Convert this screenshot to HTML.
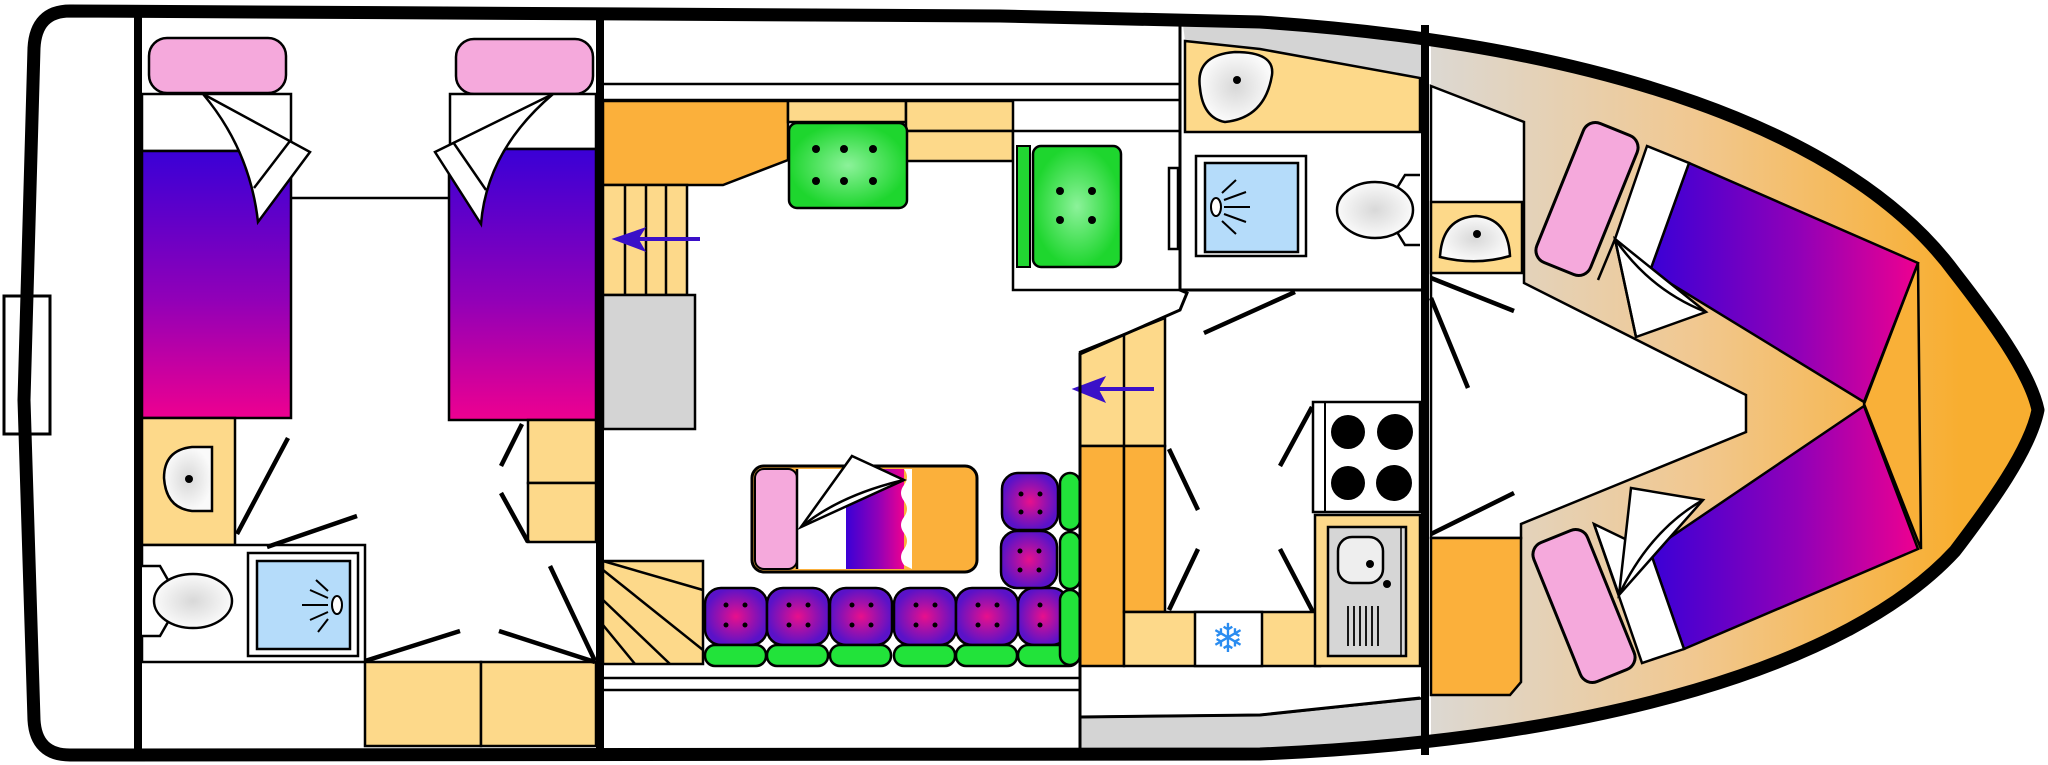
<!DOCTYPE html>
<html><head><meta charset="utf-8"><style>html,body{margin:0;padding:0;background:#fff}svg{display:block}</style></head>
<body>
<svg width="2048" height="765" viewBox="0 0 2048 765" xmlns="http://www.w3.org/2000/svg">
<defs>
<linearGradient id="bedv" x1="0" y1="0" x2="0" y2="1"><stop offset="0" stop-color="#3a00d6"/><stop offset="0.55" stop-color="#9000b8"/><stop offset="1" stop-color="#ee0090"/></linearGradient>
<linearGradient id="bedh" x1="0" y1="0" x2="1" y2="0"><stop offset="0" stop-color="#3a00d6"/><stop offset="0.55" stop-color="#9000b8"/><stop offset="1" stop-color="#ee0090"/></linearGradient>
<linearGradient id="wood" x1="1431" y1="0" x2="1960" y2="0" gradientUnits="userSpaceOnUse"><stop offset="0" stop-color="#dcd8d2"/><stop offset="0.5" stop-color="#f1c890"/><stop offset="1" stop-color="#f8ae30"/></linearGradient>
<radialGradient id="grn"><stop offset="0" stop-color="#8cf29a"/><stop offset="1" stop-color="#1ed62e"/></radialGradient>
<radialGradient id="pur"><stop offset="0" stop-color="#e8108c"/><stop offset="1" stop-color="#5a12c8"/></radialGradient>
<radialGradient id="wc"><stop offset="0" stop-color="#d8d8d8"/><stop offset="1" stop-color="#fafafa"/></radialGradient>
<clipPath id="hullclip"><path d="M60,11 L1000,16 L1260,22 C1600,45 1850,130 1955,273 C1990,318 2030,372 2038,410 C2030,450 1990,505 1955,551 C1850,665 1600,740 1260,754 L60,755 Z"/></clipPath>
</defs>

<rect x="1431" y="0" width="620" height="765" fill="url(#wood)" clip-path="url(#hullclip)"/>
<g clip-path="url(#hullclip)">
<path d="M1180,0 L1425,0 L1425,80 L1185,41 Z" fill="#d4d4d4"/>
<path d="M1080,717 L1260,715 L1425,698 L1425,765 L1080,765 Z" fill="#d4d4d4" stroke="#000" stroke-width="2.5"/>
</g>
<path d="M1185,41 L1260,49 L1420,78 L1420,132 L1185,132 Z" fill="#fdd98a" stroke="#000" stroke-width="2.5"/>
<path d="M1200,88 Q1195,55 1235,52 Q1275,52 1272,75 Q1265,118 1225,122 Q1203,118 1200,88 Z" fill="url(#wc)" stroke="#000" stroke-width="2.5"/>
<circle cx="1237" cy="80" r="4" fill="#000"/>

<!-- AFT CABIN -->
<rect x="4" y="296" width="46" height="138" fill="#fff" stroke="#000" stroke-width="3"/>
<rect x="149" y="38" width="137" height="55" rx="18" fill="#f5a9dc" stroke="#000" stroke-width="2.5"/>
<rect x="456" y="39" width="137" height="55" rx="18" fill="#f5a9dc" stroke="#000" stroke-width="2.5"/>
<rect x="142" y="94" width="149" height="57" fill="#fff" stroke="#000" stroke-width="2.5"/>
<rect x="142" y="151" width="149" height="267" fill="url(#bedv)" stroke="#000" stroke-width="2.5"/>
<rect x="450" y="94" width="146" height="55" fill="#fff" stroke="#000" stroke-width="2.5"/>
<rect x="449" y="149" width="147" height="271" fill="url(#bedv)" stroke="#000" stroke-width="2.5"/>
<line x1="291" y1="198" x2="449" y2="198" stroke="#000" stroke-width="2.5"/>
<path d="M203,94 L310,152 L258,222 Q250,150 203,94 Z" fill="#fff" stroke="#000" stroke-width="2.5"/>
<line x1="254" y1="188" x2="290" y2="141" stroke="#000" stroke-width="2.5"/>
<path d="M553,94 L435,152 L481,224 Q487,150 553,94 Z" fill="#fff" stroke="#000" stroke-width="2.5"/>
<line x1="486" y1="190" x2="453" y2="142" stroke="#000" stroke-width="2.5"/>
<rect x="142" y="418" width="93" height="127" fill="#fdd98a" stroke="#000" stroke-width="2.5"/>
<path d="M212,447 L192,447 Q164,450 164,478 Q166,508 192,511 L212,511 Z" fill="url(#wc)" stroke="#000" stroke-width="2.5"/>
<circle cx="189" cy="479" r="4" fill="#000"/>
<rect x="142" y="545" width="223" height="117" fill="#fff" stroke="#000" stroke-width="2.5"/>
<path d="M142,566 L160,566 L168,580 L168,622 L160,636 L142,636" fill="#fff" stroke="#000" stroke-width="2.5"/>
<ellipse cx="193" cy="601" rx="39" ry="27" fill="url(#wc)" stroke="#000" stroke-width="2.5"/>
<rect x="248" y="553" width="110" height="103" fill="#fff" stroke="#000" stroke-width="2.5"/>
<rect x="257" y="561" width="93" height="88" fill="#b5dcfa" stroke="#000" stroke-width="2.5"/>
<ellipse cx="337" cy="605" rx="5" ry="9" fill="#fff" stroke="#000" stroke-width="2"/>
<g stroke="#000" stroke-width="2"><line x1="302" y1="605" x2="328" y2="605"/><line x1="310" y1="590" x2="328" y2="598"/><line x1="316" y1="580" x2="328" y2="591"/><line x1="310" y1="620" x2="328" y2="612"/><line x1="318" y1="632" x2="328" y2="619"/></g>
<rect x="365" y="662" width="116" height="84" fill="#fdd98a" stroke="#000" stroke-width="2.5"/>
<rect x="481" y="662" width="115" height="84" fill="#fdd98a" stroke="#000" stroke-width="2.5"/>
<rect x="528" y="420" width="68" height="63" fill="#fdd98a" stroke="#000" stroke-width="2.5"/>
<rect x="528" y="483" width="68" height="59" fill="#fdd98a" stroke="#000" stroke-width="2.5"/>
<g stroke="#000" stroke-width="4.5">
<line x1="288" y1="438" x2="237" y2="534"/><line x1="357" y1="516" x2="267" y2="547"/>
<line x1="522" y1="424" x2="501" y2="466"/><line x1="501" y1="493" x2="528" y2="542"/>
<line x1="550" y1="566" x2="595" y2="661"/><line x1="460" y1="631" x2="365" y2="661"/><line x1="499" y1="631" x2="595" y2="662"/>
</g>

<!-- SALOON -->
<line x1="604" y1="84" x2="1180" y2="84" stroke="#000" stroke-width="2.5"/>
<line x1="604" y1="100" x2="1180" y2="100" stroke="#000" stroke-width="2.5"/>
<path d="M603,101 L788,101 L788,160 L723,185 L603,185 Z" fill="#fbb03b" stroke="#000" stroke-width="2.5"/>
<rect x="603" y="185" width="84" height="110" fill="#fdd98a" stroke="#000" stroke-width="2.5"/>
<g stroke="#000" stroke-width="2.5"><line x1="625" y1="185" x2="625" y2="295"/><line x1="646" y1="185" x2="646" y2="295"/><line x1="666" y1="185" x2="666" y2="295"/></g>
<rect x="603" y="295" width="92" height="134" fill="#d4d4d4" stroke="#000" stroke-width="2.5"/>
<rect x="788" y="101" width="118" height="21" fill="#fdd98a" stroke="#000" stroke-width="2.5"/>
<rect x="906" y="101" width="107" height="30" fill="#fdd98a" stroke="#000" stroke-width="2.5"/>
<rect x="906" y="131" width="107" height="30" fill="#fdd98a" stroke="#000" stroke-width="2.5"/>
<rect x="789" y="123" width="118" height="85" rx="8" fill="url(#grn)" stroke="#000" stroke-width="2.5"/>
<g fill="#000"><circle cx="816" cy="149" r="4"/><circle cx="844" cy="149" r="4"/><circle cx="873" cy="149" r="4"/><circle cx="816" cy="181" r="4"/><circle cx="844" cy="181" r="4"/><circle cx="873" cy="181" r="4"/></g>
<rect x="1013" y="131" width="167" height="159" fill="#fff" stroke="#000" stroke-width="2.5"/>
<rect x="1017" y="146" width="13" height="121" fill="#22d632" stroke="#000" stroke-width="2"/>
<rect x="1033" y="146" width="88" height="121" rx="8" fill="url(#grn)" stroke="#000" stroke-width="2.5"/>
<g fill="#000"><circle cx="1060" cy="191" r="4"/><circle cx="1092" cy="191" r="4"/><circle cx="1060" cy="220" r="4"/><circle cx="1092" cy="220" r="4"/></g>
<line x1="604" y1="678" x2="1080" y2="678" stroke="#000" stroke-width="2.5"/>
<line x1="604" y1="690" x2="1080" y2="690" stroke="#000" stroke-width="2.5"/>
<rect x="603" y="561" width="100" height="103" fill="#fdd98a" stroke="#000" stroke-width="2.5"/>
<g stroke="#000" stroke-width="2.5"><line x1="603" y1="561" x2="703" y2="590"/><line x1="603" y1="570" x2="703" y2="650"/><line x1="603" y1="600" x2="670" y2="664"/><line x1="603" y1="625" x2="635" y2="664"/></g>
<rect x="752" y="466" width="225" height="106" rx="12" fill="#fbb03b" stroke="#000" stroke-width="3"/>
<rect x="755" y="469" width="42" height="100" rx="9" fill="#f5a9dc" stroke="#000" stroke-width="2"/>
<rect x="797" y="469" width="49" height="100" fill="#fff"/>
<rect x="846" y="469" width="58" height="100" fill="url(#bedh)"/>
<path d="M904,469 q6,8 0,16 q-6,8 0,16 q6,8 0,16 q-6,8 0,16 q6,8 0,16 q-6,8 0,16 L912,569 L912,469 Z" fill="#fff"/>
<line x1="797" y1="469" x2="797" y2="569" stroke="#000" stroke-width="2.5"/>
<path d="M852,456 L904,480 L801,527 Z" fill="#fff" stroke="#000" stroke-width="2.5"/>
<path d="M801,527 Q840,495 904,480" fill="none" stroke="#000" stroke-width="2.5"/>
<g stroke="#000" stroke-width="2.5">
<rect x="705" y="588" width="62" height="57" rx="16" fill="url(#pur)"/>
<rect x="767" y="588" width="62" height="57" rx="16" fill="url(#pur)"/>
<rect x="830" y="588" width="62" height="57" rx="16" fill="url(#pur)"/>
<rect x="894" y="588" width="62" height="57" rx="16" fill="url(#pur)"/>
<rect x="956" y="588" width="62" height="57" rx="16" fill="url(#pur)"/>
<rect x="1018" y="588" width="50" height="57" rx="16" fill="url(#pur)"/>
<rect x="1002" y="473" width="56" height="57" rx="16" fill="url(#pur)"/>
<rect x="1001" y="531" width="56" height="57" rx="16" fill="url(#pur)"/>
<rect x="705" y="645" width="61" height="21" rx="10" fill="#22e33a"/>
<rect x="767" y="645" width="61" height="21" rx="10" fill="#22e33a"/>
<rect x="830" y="645" width="61" height="21" rx="10" fill="#22e33a"/>
<rect x="894" y="645" width="61" height="21" rx="10" fill="#22e33a"/>
<rect x="956" y="645" width="61" height="21" rx="10" fill="#22e33a"/>
<rect x="1018" y="645" width="61" height="21" rx="10" fill="#22e33a"/>
<rect x="1060" y="473" width="20" height="57" rx="10" fill="#22e33a"/>
<rect x="1060" y="532" width="20" height="57" rx="10" fill="#22e33a"/>
<rect x="1060" y="590" width="20" height="75" rx="10" fill="#22e33a"/>
</g>
<g fill="#000">
<circle cx="726" cy="605" r="2.5"/><circle cx="745" cy="605" r="2.5"/><circle cx="726" cy="625" r="2.5"/><circle cx="745" cy="625" r="2.5"/>
<circle cx="789" cy="605" r="2.5"/><circle cx="808" cy="605" r="2.5"/><circle cx="789" cy="625" r="2.5"/><circle cx="808" cy="625" r="2.5"/>
<circle cx="852" cy="605" r="2.5"/><circle cx="871" cy="605" r="2.5"/><circle cx="852" cy="625" r="2.5"/><circle cx="871" cy="625" r="2.5"/>
<circle cx="916" cy="605" r="2.5"/><circle cx="935" cy="605" r="2.5"/><circle cx="916" cy="625" r="2.5"/><circle cx="935" cy="625" r="2.5"/>
<circle cx="978" cy="605" r="2.5"/><circle cx="997" cy="605" r="2.5"/><circle cx="978" cy="625" r="2.5"/><circle cx="997" cy="625" r="2.5"/>
<circle cx="1040" cy="605" r="2.5"/><circle cx="1040" cy="625" r="2.5"/>
<circle cx="1021" cy="494" r="2.5"/><circle cx="1040" cy="494" r="2.5"/><circle cx="1021" cy="512" r="2.5"/><circle cx="1040" cy="512" r="2.5"/>
<circle cx="1020" cy="551" r="2.5"/><circle cx="1039" cy="551" r="2.5"/><circle cx="1020" cy="570" r="2.5"/><circle cx="1039" cy="570" r="2.5"/>
</g>

<!-- HEAD -->
<rect x="1196" y="156" width="110" height="100" fill="#fff" stroke="#000" stroke-width="2.5"/>
<rect x="1205" y="163" width="93" height="89" fill="#b5dcfa" stroke="#000" stroke-width="2.5"/>
<ellipse cx="1216" cy="207" rx="5" ry="9" fill="#fff" stroke="#000" stroke-width="2"/>
<g stroke="#000" stroke-width="2"><line x1="1224" y1="207" x2="1250" y2="207"/><line x1="1224" y1="200" x2="1246" y2="192"/><line x1="1222" y1="193" x2="1236" y2="180"/><line x1="1224" y1="214" x2="1246" y2="222"/><line x1="1222" y1="221" x2="1236" y2="234"/></g>
<rect x="1169" y="168" width="9" height="81" fill="#fff" stroke="#000" stroke-width="2.5"/>
<path d="M1420,175 L1405,175 L1397,188 L1397,232 L1405,245 L1420,245" fill="#fff" stroke="#000" stroke-width="2.5"/>
<ellipse cx="1375" cy="210" rx="38" ry="28" fill="url(#wc)" stroke="#000" stroke-width="2.5"/>
<line x1="1180" y1="290" x2="1425" y2="290" stroke="#000" stroke-width="3"/>

<!-- GALLEY -->
<path d="M1080,352 L1165,318 L1165,446 L1080,446 Z" fill="#fdd98a" stroke="#000" stroke-width="2.5"/>
<line x1="1124" y1="335" x2="1124" y2="446" stroke="#000" stroke-width="2.5"/>
<rect x="1080" y="446" width="44" height="220" fill="#fbb03b" stroke="#000" stroke-width="2.5"/>
<rect x="1124" y="446" width="41" height="166" fill="#fbb03b" stroke="#000" stroke-width="2.5"/>
<rect x="1124" y="612" width="196" height="54" fill="#fdd98a" stroke="#000" stroke-width="2.5"/>
<rect x="1195" y="612" width="67" height="54" fill="#fff" stroke="#000" stroke-width="2.5"/>
<text x="1228" y="652" font-family="DejaVu Sans, sans-serif" font-size="40" fill="#2a8cf0" text-anchor="middle">❄</text>
<rect x="1315" y="515" width="105" height="151" fill="#fdd98a" stroke="#000" stroke-width="2.5"/>
<rect x="1328" y="527" width="78" height="129" fill="#d6d6d6" stroke="#000" stroke-width="2.5"/>
<line x1="1401" y1="527" x2="1401" y2="656" stroke="#000" stroke-width="1.5"/>
<rect x="1338" y="537" width="45" height="46" rx="14" fill="#eee" stroke="#000" stroke-width="2.5"/>
<circle cx="1370" cy="564" r="4" fill="#000"/><circle cx="1387" cy="584" r="4" fill="#000"/>
<g stroke="#000" stroke-width="1.8"><line x1="1348" y1="606" x2="1348" y2="646"/><line x1="1354" y1="606" x2="1354" y2="646"/><line x1="1360" y1="606" x2="1360" y2="646"/><line x1="1366" y1="606" x2="1366" y2="646"/><line x1="1372" y1="606" x2="1372" y2="646"/><line x1="1378" y1="606" x2="1378" y2="646"/></g>
<rect x="1313" y="402" width="107" height="110" fill="#fff" stroke="#000" stroke-width="2.5"/>
<line x1="1325" y1="402" x2="1325" y2="512" stroke="#000" stroke-width="2"/>
<g fill="#000"><circle cx="1348" cy="432" r="17"/><circle cx="1395" cy="432" r="18"/><circle cx="1348" cy="483" r="17"/><circle cx="1394" cy="483" r="18"/></g>
<g stroke="#000" stroke-width="4.5">
<line x1="1169" y1="449" x2="1198" y2="510"/><line x1="1198" y1="549" x2="1169" y2="610"/>
<line x1="1204" y1="333" x2="1295" y2="292"/>
<line x1="1280" y1="466" x2="1312" y2="407"/><line x1="1280" y1="549" x2="1313" y2="612"/>
</g>

<g stroke="#3a10c8" stroke-width="4" fill="#3a10c8">
<line x1="700" y1="239" x2="622" y2="239"/><path d="M613,239 L645,228 L638,239 L645,251 Z" stroke-width="1"/>
<line x1="1154" y1="389" x2="1082" y2="389"/><path d="M1073,389 L1105,377 L1098,389 L1105,402 Z" stroke-width="1"/>
</g>

<!-- FORWARD CABIN -->
<path d="M1431,86 L1524,122 L1524,283 L1746,395 L1746,432 L1521,524 L1521,538 L1431,538 Z" fill="#fff" stroke="#000" stroke-width="2.5"/>
<rect x="1431" y="202" width="91" height="71" fill="#fdd98a" stroke="#000" stroke-width="2.5"/>
<path d="M1440,257 Q1442,218 1476,216 Q1508,218 1510,256 Q1476,266 1440,257 Z" fill="url(#wc)" stroke="#000" stroke-width="2.5"/>
<circle cx="1477" cy="234" r="4" fill="#000"/>
<path d="M1431,538 L1521,538 L1521,682 L1510,695 L1431,695 Z" fill="#fbb03b" stroke="#000" stroke-width="2.5"/>
<path d="M1918,263 L1921,549 L1864,404 Z" fill="#f9b038" stroke="#000" stroke-width="2.5"/>
<path d="M1689,163 L1918,263 L1864,402 L1650,271 Z" fill="url(#bedh)" stroke="#000" stroke-width="2.5"/>
<path d="M1864,406 L1918,549 L1684,649 L1650,551 Z" fill="url(#bedh)" stroke="#000" stroke-width="2.5"/>
<path d="M1647,146 L1689,163 L1650,271 L1615,239 Z" fill="#fff" stroke="#000" stroke-width="2.5"/>
<path d="M1594,524 L1650,551 L1684,649 L1642,663 Z" fill="#fff" stroke="#000" stroke-width="2.5"/>
<path d="M1615,239 L1706,312 L1636,337 Z" fill="#fff" stroke="#000" stroke-width="2.5"/>
<path d="M1615,239 Q1650,290 1706,312" fill="none" stroke="#000" stroke-width="2.5"/>
<path d="M1598,280 L1615,239 L1636,337" fill="none" stroke="#000" stroke-width="2.5"/>
<path d="M1631,488 L1703,500 L1619,595 Z" fill="#fff" stroke="#000" stroke-width="2.5"/>
<path d="M1619,595 Q1650,530 1703,500" fill="none" stroke="#000" stroke-width="2.5"/>
<line x1="1594" y1="524" x2="1619" y2="595" stroke="#000" stroke-width="2.5"/>
<rect x="-29" y="-75" width="58" height="150" rx="13" fill="#f5a9dc" stroke="#000" stroke-width="3" transform="translate(1587,199) rotate(22)"/>
<rect x="-29" y="-75" width="58" height="150" rx="13" fill="#f5a9dc" stroke="#000" stroke-width="3" transform="translate(1584,606) rotate(-22)"/>
<g stroke="#000" stroke-width="4.5">
<line x1="1431" y1="278" x2="1514" y2="311"/><line x1="1431" y1="298" x2="1468" y2="388"/><line x1="1431" y1="534" x2="1514" y2="493"/>
</g>

<g stroke="#000" stroke-width="3" fill="none">
<path d="M1180,20 L1180,290 L1187,293 L1180,310 L1080,354 L1080,752"/>
<path d="M1080,717 L1260,715 L1420,698"/>
</g>
<g stroke="#000" stroke-width="8">
<line x1="138" y1="10" x2="138" y2="755"/>
<line x1="600" y1="10" x2="600" y2="755"/>
<line x1="1425" y1="25" x2="1425" y2="755"/>
</g>
<path d="M70,11 L1000,16 L1260,22 C1600,45 1850,130 1955,273 C1990,318 2030,372 2038,410 C2030,450 1990,505 1955,551 C1850,665 1600,740 1260,754 L70,755 Q36,755 34,720 L24,400 L34,48 Q36,11 70,11 Z" fill="none" stroke="#000" stroke-width="13" stroke-linejoin="round"/>
</svg>
</body></html>
